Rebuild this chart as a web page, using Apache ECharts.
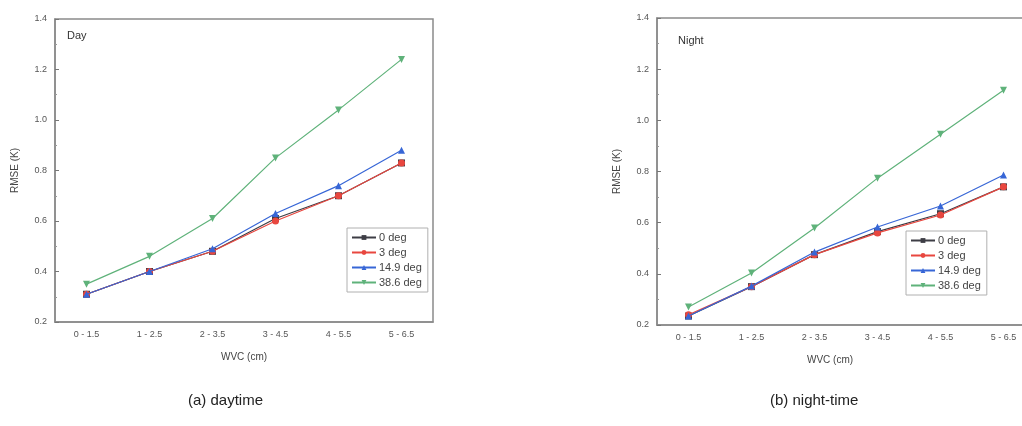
<!DOCTYPE html>
<html>
<head>
<meta charset="utf-8">
<script src="https://cdn.jsdelivr.net/npm/echarts@6/dist/echarts.min.js"></script>
<style>
  html, body { margin: 0; padding: 0; background: #fff; overflow: hidden; }
  /* the night panel runs past the right edge of the picture, so the canvas is wider than the window */
  #chart { width: 1040px; height: 426px; }
</style>
</head>
<body>
<div id="chart"></div>
<script>
// WVC classes on the x axis
const categories = ["0 - 1.5", "1 - 2.5", "2 - 3.5", "3 - 4.5", "4 - 5.5", "5 - 6.5"];
const angles = ["0 deg", "3 deg", "14.9 deg", "38.6 deg"];

// daytime RMSE (K)
const day0 = [0.31, 0.40, 0.48, 0.61, 0.70, 0.83];
const day3 = [0.31, 0.40, 0.48, 0.60, 0.70, 0.83];
const day149 = [0.31, 0.40, 0.49, 0.63, 0.74, 0.88];
const day386 = [0.35, 0.46, 0.61, 0.85, 1.04, 1.24];

// night-time RMSE (K)
const night0 = [0.235, 0.35, 0.475, 0.565, 0.635, 0.74];
const night3 = [0.24, 0.35, 0.475, 0.56, 0.63, 0.74];
const night149 = [0.235, 0.352, 0.485, 0.583, 0.665, 0.786];
const night386 = [0.27, 0.403, 0.579, 0.774, 0.946, 1.118];

const colors = ["#3d3d45", "#e8473f", "#3766d6", "#5fb27a"];
const symbols = ["rect", "circle", "triangle", "path://M0,0 L10,0 L5,9 Z"];

let myChart = echarts.init(document.getElementById('chart'));

const gridStyle = {
    show: true,
    borderColor: "#8a8a8a",
    borderWidth: 1.5,
    backgroundColor: "transparent"
};

function xAxisFor(idx, namePad) {
    return {
        type: "category",
        gridIndex: idx,
        data: categories,
        boundaryGap: true,
        name: "WVC (cm)",
        nameLocation: "middle",
        nameGap: 30,
        nameTextStyle: {fontSize: 10, color: "#444", fontFamily: "Liberation Sans", padding: namePad},
        axisLine: {lineStyle: {color: "#8a8a8a", width: 1.5}},
        axisTick: {inside: true, alignWithLabel: true, length: 4, lineStyle: {color: "#777"}},
        axisLabel: {fontSize: 9, color: "#555", margin: 8, fontFamily: "Liberation Sans"},
        splitLine: {show: false}
    };
}

function yAxisFor(idx) {
    return {
        type: "value",
        gridIndex: idx,
        min: 0.2,
        max: 1.4,
        interval: 0.2,
        name: "RMSE (K)",
        nameLocation: "middle",
        nameGap: 35,
        nameTextStyle: {fontSize: 10, color: "#444", fontFamily: "Liberation Sans"},
        axisLine: {show: true, lineStyle: {color: "#8a8a8a", width: 1.5}},
        axisTick: {show: true, inside: true, length: 4, lineStyle: {color: "#777"}},
        minorTick: {show: true, splitNumber: 2, length: 2, lineStyle: {color: "#999"}},
        axisLabel: {fontSize: 9, color: "#555", margin: 8, fontFamily: "Liberation Sans",
            formatter: v => v.toFixed(1)},
        splitLine: {show: false}
    };
}

function makeSeries(idx, dataSets) {
    return dataSets.map((d, i) => ({
        name: angles[i],
        type: "line",
        xAxisIndex: idx,
        yAxisIndex: idx,
        data: d,
        symbol: symbols[i],
        symbolSize: 7,
        showAllSymbol: true,
        lineStyle: {color: colors[i], width: 1.2},
        itemStyle: {color: colors[i]},
        z: 2 + i
    }));
}

function legendFor(left, top) {
    return {
        orient: "vertical",
        left: left,
        top: top,
        data: angles,
        itemWidth: 24,
        itemHeight: 6,
        itemGap: 4,
        padding: [4, 6, 4, 4],
        borderColor: "#b0b0b0",
        borderWidth: 1,
        backgroundColor: "#fff",
        selectedMode: false,
        textStyle: {fontSize: 11, color: "#444", fontFamily: "Liberation Sans", padding: [0, 0, 0, -2]}
    };
}

myChart.setOption({
    animation: false,
    backgroundColor: "#fff",
    grid: [
        Object.assign({left: 55, top: 19, width: 378, height: 303}, gridStyle),
        Object.assign({left: 657, top: 18, width: 378, height: 307}, gridStyle)
    ],
    xAxis: [xAxisFor(0, 0), xAxisFor(1, [0, 32, 0, 0])],
    yAxis: [yAxisFor(0), yAxisFor(1)],
    legend: [legendFor(347, 228), legendFor(906, 231)],
    series: makeSeries(0, [day0, day3, day149, day386])
        .concat(makeSeries(1, [night0, night3, night149, night386])),
    graphic: [
        {type: "text", left: 67, top: 30, style: {text: "Day", fontSize: 11, fill: "#333", fontFamily: "Liberation Sans"}},
        {type: "text", left: 678, top: 35, style: {text: "Night", fontSize: 11, fill: "#333", fontFamily: "Liberation Sans"}},
        {type: "text", left: 188, top: 393, style: {text: "(a) daytime", fontSize: 15, fill: "#222", fontFamily: "Liberation Sans"}},
        {type: "text", left: 770, top: 393, style: {text: "(b) night-time", fontSize: 15, fill: "#222", fontFamily: "Liberation Sans"}}
    ]
});
</script>
</body>
</html>
